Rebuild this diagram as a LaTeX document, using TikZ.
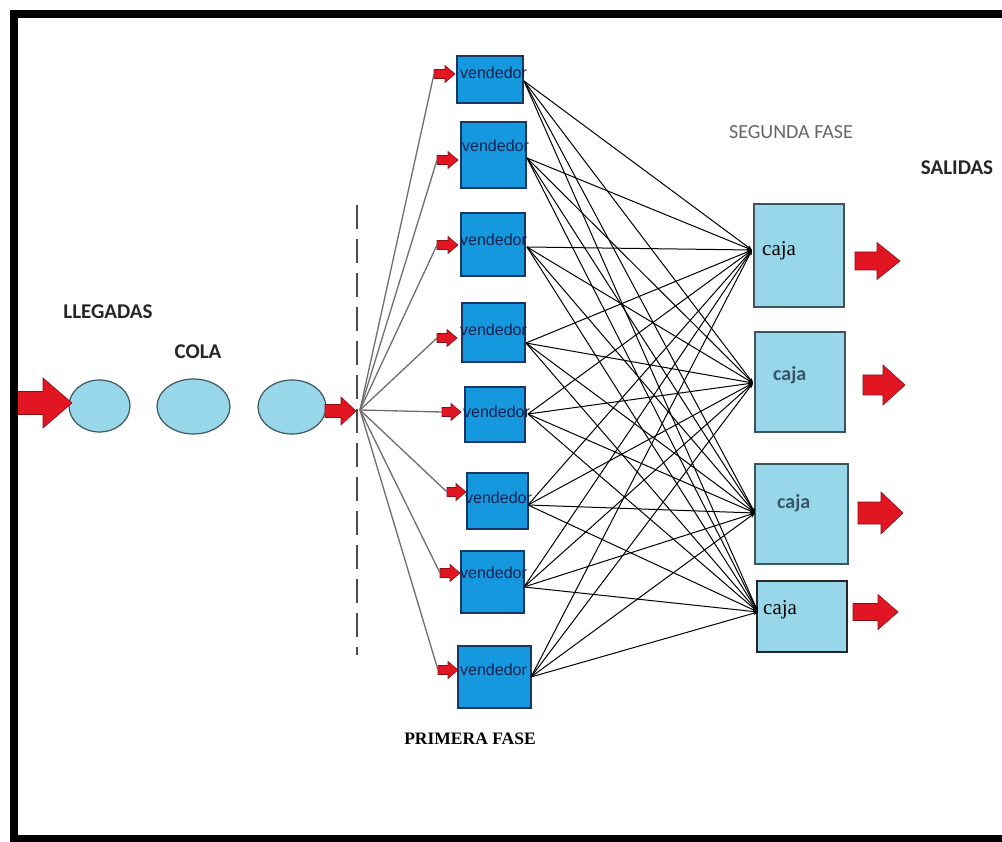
\documentclass[tikz,border=0pt]{standalone}
\usepackage{fontspec}
\setmainfont{Liberation Serif}
\newfontfamily\carlito{Carlito}
\newfontfamily\arialf{Liberation Sans}
\usetikzlibrary{shapes.geometric,arrows.meta,calc}
\definecolor{vblue}{RGB}{22,152,222}
\definecolor{vedge}{RGB}{25,55,100}
\definecolor{cblue}{RGB}{152,214,234}
\definecolor{cedge}{RGB}{60,85,95}
\definecolor{ered}{RGB}{226,22,34}
\definecolor{eredge}{RGB}{140,15,20}
\definecolor{vtextc}{RGB}{15,35,80}
\definecolor{cajac}{RGB}{55,85,105}
\definecolor{fangray}{RGB}{110,110,110}
\newcommand\blockarrow[7]{% name, x, y, length, head length, head half width, shaft half width
  \coordinate (#1) at (#2,#3);
  \filldraw[redarrow] (#2,#3-#7) -- (#2+#4-#5,#3-#7) -- (#2+#4-#5,#3-#6) -- (#2+#4,#3)
    -- (#2+#4-#5,#3+#6) -- (#2+#4-#5,#3+#7) -- (#2,#3+#7) -- cycle;}
\begin{document}
\begin{tikzpicture}[x=1pt,y=-1pt,
  vbox/.style={draw=vedge, fill=vblue, line width=1.2pt, inner sep=0pt},
  cbox/.style={draw=cedge, fill=cblue, line width=1.2pt, inner sep=0pt},
  qell/.style={ellipse, draw=cedge, fill=cblue, line width=1.2pt, inner sep=0pt},
  redarrow/.style={fill=ered, draw=eredge, line width=0.6pt, line join=miter},
  vtext/.style={font=\arialf\fontsize{16}{18}\selectfont, text=vtextc, anchor=west, inner sep=0pt},
  cserif/.style={font=\fontsize{21}{24}\selectfont, text=black, anchor=west, inner sep=0pt},
  csans/.style={font=\carlito\bfseries\fontsize{20}{24}\selectfont, text=cajac, anchor=west, inner sep=0pt},
  boldlab/.style={font=\carlito\bfseries\fontsize{21}{24}\selectfont, text=black!85, inner sep=0pt},
  fanline/.style={draw=fangray, line width=1.3pt},
  link/.style={draw=black, line width=1pt, -{Stealth[length=5pt,width=4pt]}},
  divider/.style={draw=black!70, line width=1.5pt, dash pattern=on 24pt off 10pt}
]
\useasboundingbox (0,0) rectangle (1002,842);
\fill[white] (0,0) rectangle (1002,842);

% queue
\node[qell, minimum width=61pt, minimum height=52pt] (e1) at (99.5,406) {};
\node[qell, minimum width=73pt, minimum height=55pt] (e2) at (193.5,406.5) {};
\node[qell, minimum width=68pt, minimum height=54pt] (e3) at (292,407) {};
\blockarrow{inarrow}{17}{403}{55}{29}{25}{11.5}
\blockarrow{qarrow}{325}{411}{31}{15}{14}{6.5}

\node[boldlab] (llegadas) at (108,312) {LLEGADAS};
\node[boldlab] (cola) at (198,352) {COLA};

% divider
\draw[divider] (357,205) -- (357,655);
\coordinate (fan) at (360,410);

% first phase
\node[vbox, minimum width=66pt, minimum height=47pt] (v1) at (490,79.5) {};
\node[vbox, minimum width=65pt, minimum height=66pt] (v2) at (493.5,155) {};
\node[vbox, minimum width=64pt, minimum height=63pt] (v3) at (493,244.5) {};
\node[vbox, minimum width=63pt, minimum height=59pt] (v4) at (493.5,332.5) {};
\node[vbox, minimum width=60pt, minimum height=55pt] (v5) at (495,414.5) {};
\node[vbox, minimum width=61pt, minimum height=56pt] (v6) at (497.5,501) {};
\node[vbox, minimum width=63pt, minimum height=62pt] (v7) at (492.5,582) {};
\node[vbox, minimum width=73pt, minimum height=62pt] (v8) at (494.5,677) {};

\node[vtext] (t1) at (460,73) {vendedor};
\node[vtext] (t2) at (462,146) {vendedor};
\node[vtext] (t3) at (460,240) {vendedor};
\node[vtext] (t4) at (460,330) {vendedor};
\node[vtext] (t5) at (463,412) {vendedor};
\node[vtext] (t6) at (465,498) {vendedor};
\node[vtext] (t7) at (460,573) {vendedor};
\node[vtext] (t8) at (460,670) {vendedor};

\blockarrow{s1}{434}{74}{21}{10}{8.5}{4.5}
\blockarrow{s2}{437}{160}{21}{10}{8.5}{4.5}
\blockarrow{s3}{437}{245}{21}{10}{8.5}{4.5}
\blockarrow{s4}{437}{338}{20}{10}{8.5}{4.5}
\blockarrow{s5}{442}{412}{19}{10}{8.5}{4.5}
\blockarrow{s6}{447}{492}{19}{10}{8.5}{4.5}
\blockarrow{s7}{440}{573}{20}{10}{8.5}{4.5}
\blockarrow{s8}{438}{670}{20}{10}{8.5}{4.5}

\foreach \i in {1,...,8} \draw[fanline] (fan) -- (s\i);

\node[font=\bfseries\fontsize{17.5}{20}\selectfont, inner sep=0pt] (primera) at (470,739) {PRIMERA FASE};

% second phase
\node[cbox, minimum width=90pt, minimum height=103pt] (c1) at (799,255.5) {};
\node[cbox, minimum width=90pt, minimum height=100pt] (c2) at (800,382) {};
\node[cbox, minimum width=93pt, minimum height=100pt] (c3) at (801.5,514) {};
\node[cbox, draw=black!85, minimum width=90pt, minimum height=71pt] (c4) at (802,616.5) {};

\node[cserif] (k1) at (762,251) {caja};
\node[csans] (k2) at (773,375) {caja};
\node[csans] (k3) at (777,503) {caja};
\node[cserif] (k4) at (763,610) {caja};

\node[font=\carlito\fontsize{20}{24}\selectfont, text=black!60, inner sep=0pt] (segunda) at (791,132) {SEGUNDA FASE};
\node[boldlab] (salidas) at (957,168) {SALIDAS};

\blockarrow{out1}{855}{261}{45}{23}{18.5}{9}
\blockarrow{out2}{863}{385}{42}{22}{20}{10}
\blockarrow{out3}{858}{513}{45}{22}{21}{11}
\blockarrow{out4}{853}{612}{45}{20}{17.5}{8.5}

% links
\coordinate (o1) at (524,81);
\coordinate (o2) at (527,158);
\coordinate (o3) at (527,247);
\coordinate (o4) at (526,343);
\coordinate (o5) at (528,414);
\coordinate (o6) at (528,505);
\coordinate (o7) at (524,587);
\coordinate (o8) at (531,677);
\coordinate (i1) at (752,250);
\coordinate (i2) at (753,383);
\coordinate (i3) at (755,513);
\coordinate (i4) at (758,612);
\foreach \v in {1,...,8}
  \foreach \c in {1,...,4}
    \draw[link] (o\v) -- (i\c);

% frame
\draw[line width=7.5pt, line join=miter] (1002,14) -- (14,14) -- (14,839) -- (1002,839);
\end{tikzpicture}
\end{document}
